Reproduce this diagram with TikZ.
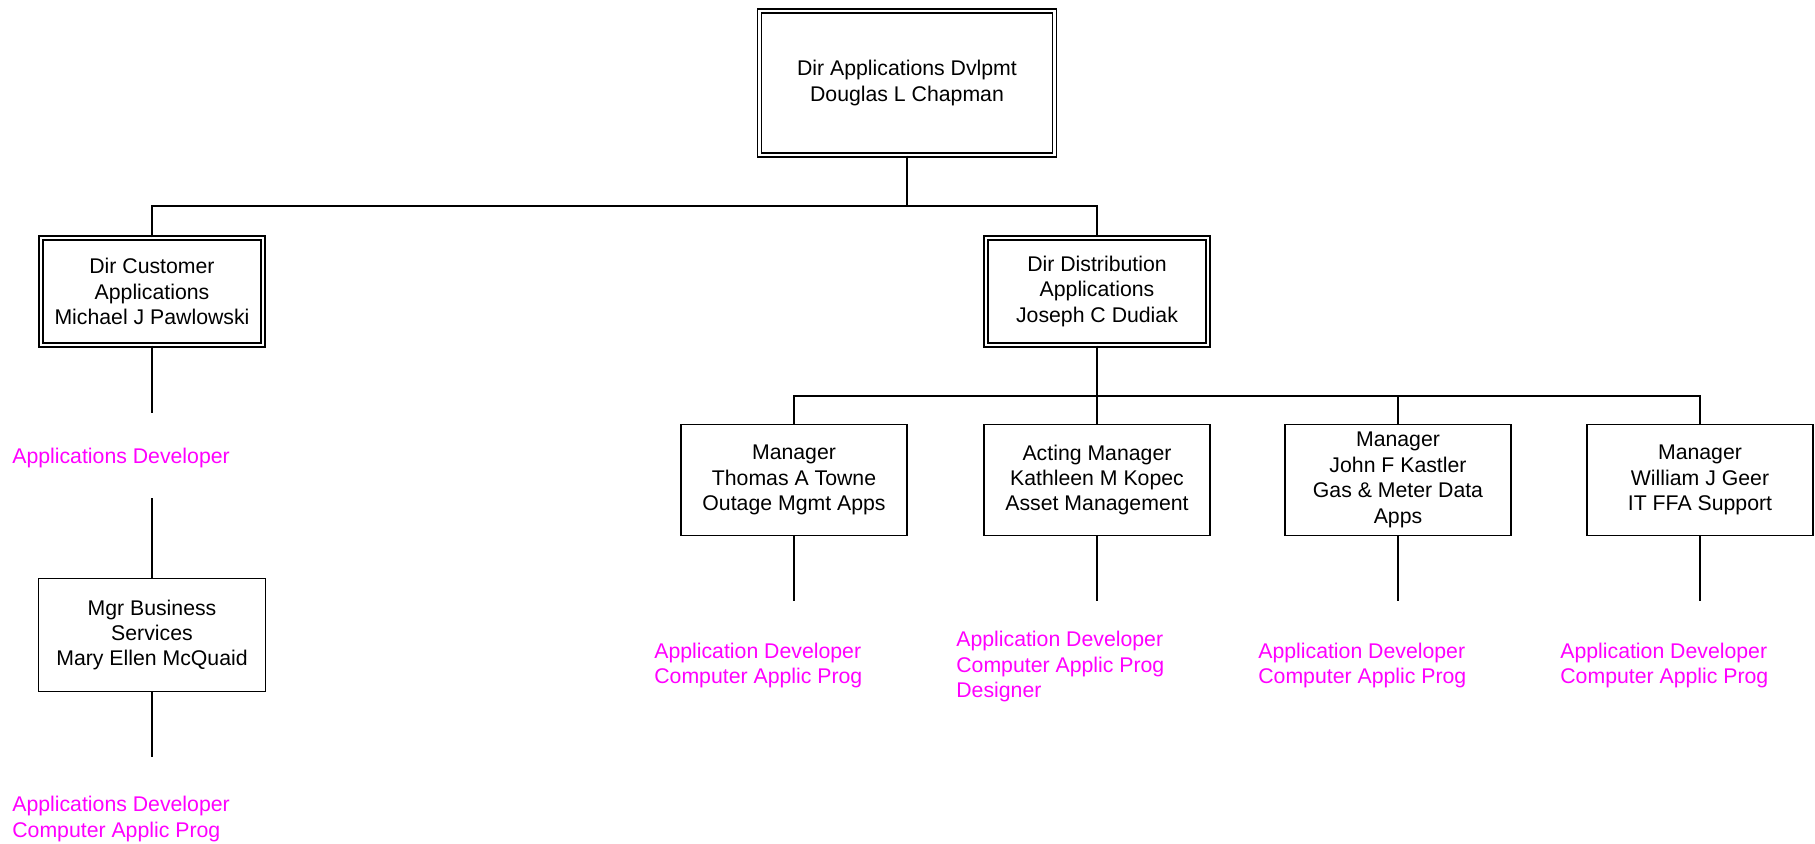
\documentclass[tikz,border=0pt]{standalone}
\usepackage{fontspec}
\setmainfont{Liberation Sans}
\usepackage{xcolor}
\definecolor{roleMagenta}{HTML}{FF00FF}
\usepackage{tikz}
\tikzset{
  orgbox/.style={draw, line width=0.8pt, align=center, inner sep=2pt,
    font=\fontsize{12.1}{14.5}\selectfont},
  dirbox/.style={orgbox, double, double distance=1.5pt},
  mgrbox/.style={orgbox, minimum width=4.52cm, minimum height=2.22cm},
  roletext/.style={anchor=west, align=left, inner sep=0pt, text=roleMagenta,
    font=\fontsize{12.1}{14.5}\selectfont},
  link/.style={line width=0.8pt}
}

\begin{document}
\begin{tikzpicture}[x=0.02cm, y=-0.02cm]
  \useasboundingbox (0,0) rectangle (1815,844);
  % ---- top level ----
  \node[dirbox, minimum width=5.9cm, minimum height=2.88cm] (dirApps) at (907,83)
    {Dir Applications Dvlpmt\\Douglas L Chapman};
  \node[dirbox, minimum width=4.44cm, minimum height=2.14cm] (dirCust) at (152,291.5)
    {Dir Customer\\Applications\\Michael J Pawlowski};
  \node[dirbox, minimum width=4.44cm, minimum height=2.14cm] (dirDist) at (1097,291.5)
    {Dir Distribution\\Applications\\Joseph C Dudiak};
  \coordinate (topBar) at (907,206);
  \draw[link] (dirApps.south) -- (topBar);
  \draw[link] (dirCust.north) |- (topBar) -| (dirDist.north);
  % ---- customer applications ----
  \node[roletext] (custDev) at (12,458.5) {Applications Developer};
  \node[orgbox, minimum width=4.54cm, minimum height=2.26cm] (mgrBus) at (152,635)
    {Mgr Business\\Services\\Mary Ellen McQuaid};
  \coordinate (custLegEnd) at (152,413);
  \coordinate (custLegStart) at (152,498);
  \draw[link] (dirCust.south) -- (custLegEnd);
  \draw[link] (custLegStart) -- (mgrBus.north);
  \draw[link] (mgrBus.south) -- ++(0,65);
  \node[roletext] (busDev) at (12,819) {Applications Developer\\Computer Applic Prog};
  % ---- distribution applications ----
  \node[mgrbox] (mgrOutage) at (794,480) {Manager\\Thomas A Towne\\Outage Mgmt Apps};
  \node[mgrbox] (mgrAsset) at (1097,480) {Acting Manager\\Kathleen M Kopec\\Asset Management};
  \node[mgrbox] (mgrGas) at (1398,480) {Manager\\John F Kastler\\Gas \& Meter Data\\Apps};
  \node[mgrbox] (mgrFfa) at (1700,480) {Manager\\William J Geer\\IT FFA Support};
  \coordinate (distBar) at (1097,396);
  \draw[link] (dirDist.south) -- (distBar);
  \foreach \m in {mgrOutage,mgrAsset,mgrGas,mgrFfa} {
    \draw[link] (distBar) -| (\m.north);
    \draw[link] (\m.south) -- ++(0,65);
  }
  \node[roletext] (outageDev) at (654,665.5) {Application Developer\\Computer Applic Prog};
  \node[roletext] (assetDev) at (956,666.5) {Application Developer\\Computer Applic Prog\\Designer};
  \node[roletext] (gasDev) at (1258,665.5) {Application Developer\\Computer Applic Prog};
  \node[roletext] (ffaDev) at (1560,665.5) {Application Developer\\Computer Applic Prog};
\end{tikzpicture}
\end{document}
